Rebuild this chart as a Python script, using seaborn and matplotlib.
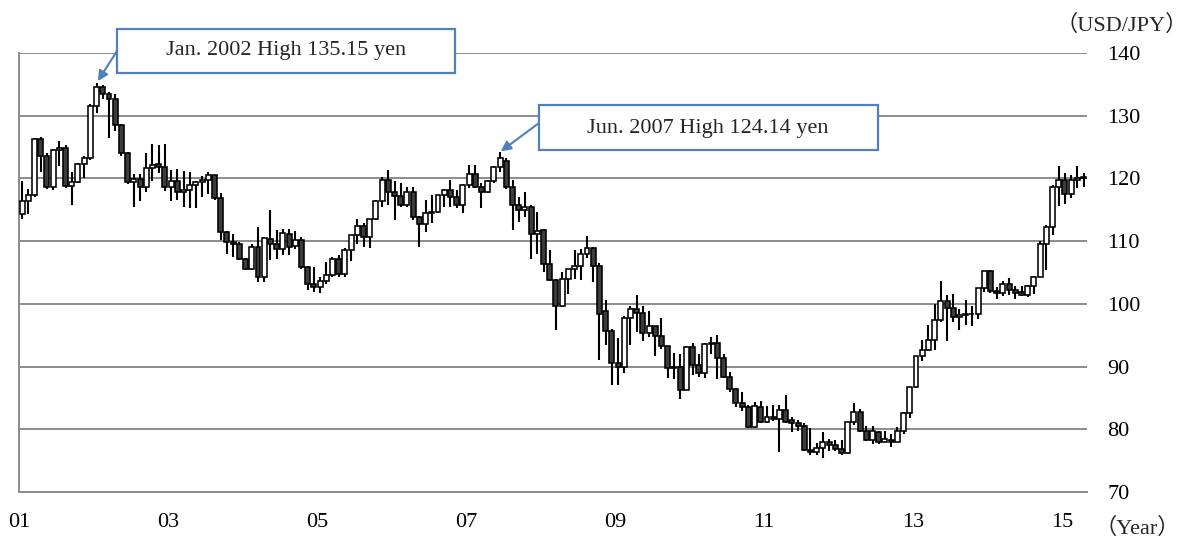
import numpy as np
import pandas as pd
import seaborn as sns
import matplotlib
matplotlib.use('Agg')
import matplotlib.pyplot as plt
from matplotlib.patches import Rectangle

# Monthly USD/JPY candles, Jan 2001 - Apr 2015
opens = [
    # 2001
    114.3, 116.4, 117.3, 126.2, 123.5, 118.7, 124.5, 124.9, 118.8, 119.4, 122.3, 123.2,
    # 2002
    131.6, 134.6, 133.5, 132.7, 128.5, 124.1, 119.4, 119.9, 118.6, 121.6, 122.3, 121.8,
    # 2003
    118.7, 119.6, 117.9, 118.2, 118.9, 119.4, 119.8, 120.5, 116.8, 111.5, 109.9, 109.6,
    # 2004
    107.2, 105.6, 109.1, 104.2, 110.4, 109.5, 108.8, 111.1, 109.2, 110.1, 105.9, 103.1,
    # 2005
    102.7, 103.6, 104.6, 107.1, 104.7, 108.6, 111.0, 112.4, 110.7, 113.5, 116.4, 119.8,
    # 2006
    117.9, 117.2, 115.7, 117.8, 113.8, 112.7, 114.4, 114.7, 117.3, 118.1, 117.0, 115.7,
    # 2007
    118.9, 120.7, 118.7, 117.9, 119.5, 121.8, 122.8, 118.7, 115.7, 114.9, 115.5, 111.2,
    # 2008
    111.8, 106.4, 103.8, 99.7, 103.9, 105.5, 106.1, 108.0, 108.9, 106.1, 98.8, 95.6,
    # 2009
    90.5, 90.0, 97.7, 99.1, 98.6, 95.4, 96.4, 94.8, 93.2, 89.7, 90.0, 86.3,
    # 2010
    93.1, 90.3, 89.0, 93.6, 93.8, 91.3, 88.4, 86.4, 84.2, 83.5, 80.4, 83.6,
    # 2011
    81.2, 81.9, 81.6, 83.1, 81.4, 81.0, 80.5, 76.7, 76.4, 77.0, 78.0, 77.5,
    # 2012
    76.8, 76.2, 81.1, 82.8, 79.8, 78.3, 79.6, 78.0, 78.3, 78.0, 79.8, 82.6,
    # 2013
    86.8, 91.7, 92.6, 94.3, 97.4, 100.5, 99.3, 97.9, 98.2, 98.4, 98.4, 102.5,
    # 2014
    105.3, 102.0, 101.7, 103.2, 102.2, 101.9, 101.4, 102.8, 104.3, 109.6, 112.3, 118.7,
    # 2015
    119.8, 117.5, 119.7, 120.0,
]

closes = [
    116.4, 117.3, 126.2, 123.5, 118.7, 124.5, 124.9, 118.8, 119.4, 122.3, 123.2, 131.6,
    134.6, 133.5, 132.7, 128.5, 124.1, 119.4, 119.9, 118.6, 121.6, 122.2, 121.8, 118.7,
    119.6, 117.9, 118.2, 118.9, 119.4, 119.8, 120.5, 116.8, 111.5, 109.9, 109.6, 107.2,
    105.6, 109.1, 104.2, 110.5, 109.5, 108.8, 111.3, 109.1, 110.1, 105.9, 103.1, 102.7,
    103.6, 104.6, 107.1, 104.7, 108.6, 111.0, 112.4, 110.7, 113.5, 116.4, 119.8, 117.9,
    117.2, 115.7, 117.8, 113.8, 112.7, 114.4, 114.7, 117.3, 118.1, 117.0, 115.7, 118.9,
    120.7, 118.7, 117.9, 119.5, 121.8, 123.2, 118.7, 115.7, 114.9, 115.4, 111.2, 111.6,
    106.4, 103.8, 99.6, 103.9, 105.5, 106.1, 108.0, 108.9, 106.1, 98.4, 95.6, 90.5,
    90.0, 97.7, 99.1, 98.6, 95.4, 96.4, 94.8, 93.2, 89.7, 90.0, 86.3, 93.1,
    90.3, 89.0, 93.6, 93.8, 91.3, 88.4, 86.4, 84.2, 83.5, 80.4, 83.7, 81.2,
    81.9, 81.6, 83.0, 81.2, 81.0, 80.5, 76.7, 76.4, 77.0, 78.0, 77.5, 76.8,
    76.2, 81.1, 82.8, 79.8, 78.3, 79.8, 78.0, 78.4, 77.9, 79.8, 82.6, 86.8,
    91.7, 92.6, 94.3, 97.4, 100.5, 99.3, 97.9, 98.2, 98.4, 98.3, 102.5, 105.3,
    102.0, 101.7, 103.2, 102.2, 101.8, 101.4, 102.8, 104.3, 109.6, 112.3, 118.7, 119.8,
    117.5, 119.7, 120.0, 120.2,
]

highs = [
    119.5, 118.3, 126.5, 126.6, 124.0, 124.7, 126.0, 125.3, 121.0, 122.5, 123.5, 131.8,
    135.15, 134.9, 133.8, 133.4, 128.6, 124.2, 120.7, 120.7, 124.0, 125.5, 125.3, 125.5,
    121.3, 121.5, 121.2, 121.0, 119.6, 120.3, 121.0, 120.6, 117.6, 111.6, 111.2, 109.9,
    107.3, 109.6, 112.3, 110.6, 114.9, 111.8, 112.0, 112.0, 111.6, 110.6, 106.0, 105.9,
    104.3, 106.7, 107.5, 107.8, 108.9, 111.0, 113.6, 112.9, 113.6, 116.5, 120.2, 121.4,
    119.5, 119.2, 118.7, 118.7, 114.0, 116.5, 117.3, 117.4, 118.3, 119.7, 118.1, 119.1,
    122.2, 122.2, 119.3, 119.8, 121.9, 124.14, 123.2, 119.7, 117.0, 117.9, 115.8, 114.7,
    112.0, 108.5, 104.0, 105.0, 105.5, 108.5, 108.7, 110.8, 109.0, 106.5, 100.6, 96.0,
    94.5, 98.0, 99.6, 101.4, 99.6, 98.9, 96.5, 97.8, 93.3, 92.2, 92.0, 93.3,
    93.8, 92.0, 93.8, 94.7, 95.0, 92.0, 89.1, 86.5, 85.9, 83.9, 84.4, 84.5,
    83.7, 83.9, 83.9, 85.5, 82.0, 81.5, 81.0, 80.2, 77.8, 79.5, 78.4, 78.3,
    78.3, 81.2, 84.2, 83.3, 80.5, 80.6, 79.8, 79.7, 79.2, 80.3, 82.8, 86.8,
    91.7, 94.3, 96.7, 99.9, 103.7, 101.4, 101.5, 99.2, 100.6, 99.7, 102.5, 105.3,
    105.4, 102.7, 103.7, 104.1, 102.8, 102.8, 103.0, 104.5, 110.0, 112.5, 118.9, 121.9,
    120.8, 120.5, 122.0, 120.8,
]

lows = [
    113.5, 114.3, 117.0, 121.0, 118.3, 118.2, 122.0, 118.5, 115.8, 119.2, 120.0, 123.0,
    130.4, 132.7, 126.4, 127.6, 123.5, 119.1, 115.5, 116.4, 117.8, 119.6, 120.8, 118.0,
    116.4, 116.5, 115.5, 115.2, 115.2, 117.1, 117.5, 116.5, 110.2, 108.0, 107.5, 107.0,
    105.4, 105.4, 103.5, 103.5, 107.0, 107.2, 107.8, 107.8, 108.8, 105.6, 102.2, 101.9,
    101.7, 103.2, 104.3, 104.3, 104.3, 106.9, 109.5, 109.1, 108.9, 113.4, 115.5, 115.7,
    113.4, 115.4, 115.5, 113.4, 109.1, 111.5, 112.9, 114.4, 115.4, 115.5, 115.2, 114.4,
    118.4, 118.4, 115.2, 117.6, 119.2, 121.0, 118.3, 111.8, 113.1, 113.9, 107.2, 107.9,
    105.1, 103.6, 95.8, 99.5, 101.5, 103.9, 103.8, 107.3, 103.5, 91.1, 93.5, 87.1,
    87.1, 89.0, 93.5, 95.5, 94.0, 94.7, 91.7, 92.8, 88.2, 88.0, 84.8, 86.2,
    88.6, 88.3, 88.2, 92.0, 88.0, 88.2, 85.9, 83.6, 82.9, 80.2, 80.2, 81.0,
    81.0, 81.3, 76.3, 81.0, 79.6, 79.7, 76.6, 75.9, 75.9, 75.4, 76.6, 76.6,
    75.9, 76.1, 80.7, 79.6, 78.2, 77.6, 77.6, 78.0, 77.2, 77.9, 79.2, 81.8,
    86.6, 90.9, 92.5, 92.6, 97.1, 94.0, 97.1, 95.9, 96.6, 96.4, 97.6, 101.9,
    101.8, 100.8, 101.2, 101.4, 100.8, 101.2, 101.1, 101.5, 104.3, 105.4, 111.0, 115.6,
    115.9, 116.9, 118.4, 118.6,
]

year_labels = ['01', '03', '05', '07', '09', '11', '13', '15']
y_ticks = [70, 80, 90, 100, 110, 120, 130, 140]

df = pd.DataFrame({'open': opens, 'high': highs, 'low': lows, 'close': closes})
df['idx'] = np.arange(len(df))
up = df['close'] >= df['open']

sns.set_theme(style='white')
plt.rcParams['font.family'] = ['Liberation Serif', 'Noto Sans CJK JP']

W, H = 1189, 539
fig = plt.figure(figsize=(W / 100, H / 100), dpi=100)
ax = fig.add_axes([19 / W, 1 - 492 / H, (1086.7 - 19) / W, (492 - 52.9) / H])

grid_col = '#8c8c8c'
blue = '#4F81BD'

# wicks and bodies
ax.vlines(df['idx'], df['low'], df['high'], color='black', lw=1.5, zorder=2)
body = (df['close'] - df['open']).abs().clip(lower=0.08)
bottom = df[['open', 'close']].min(axis=1)
ax.bar(df['idx'], body, bottom=bottom, width=0.8,
       color=np.where(up, 'white', '#3c3c3c'), edgecolor='black', lw=1.15, zorder=3)

ax.set_xlim(-0.5, len(df) - 0.5)
ax.set_ylim(70, 140)
ax.set_yticks(y_ticks)
ax.yaxis.grid(True, color=grid_col, lw=1.4)
ax.set_axisbelow(True)
ax.yaxis.tick_right()
ax.tick_params(axis='y', length=0, pad=15, labelsize=16, colors='black')

ax.set_xticks(np.arange(-0.5, len(df), 24))
ax.set_xticklabels(year_labels)
ax.tick_params(axis='x', direction='in', length=5, width=1.2, color=grid_col,
               pad=15, labelsize=16, labelcolor='black')

for side in ['top', 'right']:
    ax.spines[side].set_visible(False)
for side in ['left', 'bottom']:
    ax.spines[side].set_color(grid_col)
    ax.spines[side].set_linewidth(1.4)

# unit labels
fig.text(1188 / W, 1 - 25 / H, '（USD/JPY）', ha='right', va='center', fontsize=16)
fig.text(1180 / W, 1 - 528 / H, '（Year）', ha='right', va='center', fontsize=16)

# callout boxes
fig.add_artist(Rectangle((117 / W, 1 - 73 / H), 338 / W, 44 / H, transform=fig.transFigure,
                         facecolor='white', edgecolor=blue, lw=1.6, zorder=5))
fig.text(286 / W, 1 - 51 / H, 'Jan. 2002 High 135.15 yen', ha='center', va='center',
         fontsize=16, zorder=6)
fig.add_artist(Rectangle((539 / W, 1 - 150 / H), 339 / W, 45 / H, transform=fig.transFigure,
                         facecolor='white', edgecolor=blue, lw=1.6, zorder=5))
fig.text(708 / W, 1 - 128 / H, 'Jun. 2007 High 124.14 yen', ha='center', va='center',
         fontsize=16, zorder=6)

arrow = dict(arrowstyle='-|>', color=blue, lw=1.5, mutation_scale=15, shrinkA=0, shrinkB=0)
ax.annotate('', xy=(12.2, 135.5), xytext=(117, H - 51), textcoords='figure pixels',
            arrowprops=arrow, annotation_clip=False)
ax.annotate('', xy=(77.1, 124.3), xytext=(539, H - 123), textcoords='figure pixels',
            arrowprops=arrow, annotation_clip=False)

fig.savefig('out.png', dpi=100)
